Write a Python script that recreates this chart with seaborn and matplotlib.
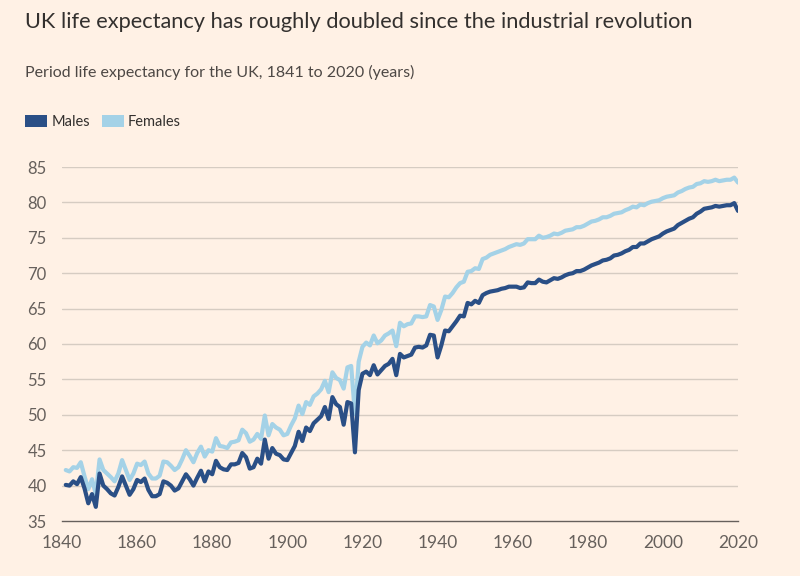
import numpy as np
import pandas as pd
import matplotlib
matplotlib.use("Agg")
import matplotlib.pyplot as plt
from matplotlib.patches import Patch
import seaborn as sns

years = list(range(1841, 2021))

males = [
    40.1, 40.0, 40.6, 40.2, 41.2, 39.6, 37.5, 38.8, 37.0, 41.7,   # 1841-1850
    40.0, 39.5, 38.9, 38.6, 39.8, 41.3, 40.0, 38.7, 39.5, 40.8,   # 1851-1860
    40.5, 41.0, 39.4, 38.5, 38.5, 38.8, 40.6, 40.4, 40.0, 39.3,   # 1861-1870
    39.6, 40.6, 41.6, 40.9, 40.0, 41.1, 42.1, 40.6, 42.0, 41.6,   # 1871-1880
    43.5, 42.6, 42.3, 42.2, 43.0, 43.0, 43.2, 44.6, 44.0, 42.4,   # 1881-1890
    42.6, 43.8, 43.1, 46.5, 43.8, 45.3, 44.5, 44.3, 43.7, 43.6,   # 1891-1900
    44.6, 45.6, 47.6, 46.3, 48.2, 47.7, 48.8, 49.3, 49.8, 51.1,   # 1901-1910
    49.4, 52.5, 51.5, 51.1, 48.6, 51.8, 51.6, 44.7, 53.5, 55.8,   # 1911-1920
    56.1, 55.6, 57.0, 55.7, 56.3, 56.9, 57.2, 57.9, 55.6, 58.6,   # 1921-1930
    58.1, 58.3, 58.5, 59.5, 59.6, 59.5, 59.8, 61.3, 61.2, 58.1,   # 1931-1940
    59.8, 61.9, 61.8, 62.5, 63.2, 64.0, 63.9, 65.8, 65.6, 66.1,   # 1941-1950
    65.8, 66.9, 67.2, 67.4, 67.5, 67.6, 67.8, 67.9, 68.1, 68.1,   # 1951-1960
    68.1, 67.9, 68.0, 68.7, 68.6, 68.6, 69.1, 68.8, 68.7, 69.0,   # 1961-1970
    69.3, 69.2, 69.4, 69.7, 69.9, 70.0, 70.3, 70.3, 70.5, 70.8,   # 1971-1980
    71.1, 71.3, 71.5, 71.8, 71.9, 72.1, 72.5, 72.6, 72.8, 73.1,   # 1981-1990
    73.3, 73.7, 73.7, 74.2, 74.2, 74.5, 74.8, 75.0, 75.2, 75.6,   # 1991-2000
    75.9, 76.1, 76.3, 76.8, 77.1, 77.4, 77.7, 77.9, 78.4, 78.7,   # 2001-2010
    79.1, 79.2, 79.3, 79.5, 79.4, 79.5, 79.6, 79.6, 79.9, 78.8,   # 2011-2020
]

females = [
    42.2, 42.0, 42.6, 42.5, 43.3, 41.3, 39.5, 40.9, 38.8, 43.7,   # 1841-1850
    42.2, 41.7, 41.2, 40.6, 41.7, 43.6, 42.2, 40.8, 41.7, 43.1,   # 1851-1860
    42.9, 43.4, 41.7, 41.0, 41.0, 41.4, 43.4, 43.3, 42.8, 42.2,   # 1861-1870
    42.6, 43.7, 45.0, 44.2, 43.3, 44.6, 45.5, 44.1, 45.0, 44.8,   # 1871-1880
    46.7, 45.6, 45.5, 45.3, 46.1, 46.2, 46.4, 47.9, 47.4, 46.2,   # 1881-1890
    46.5, 47.3, 46.6, 49.9, 47.1, 48.7, 48.2, 47.9, 47.1, 47.3,   # 1891-1900
    48.5, 49.5, 51.3, 50.1, 51.8, 51.4, 52.6, 53.0, 53.6, 54.8,   # 1901-1910
    53.2, 56.0, 55.2, 54.9, 53.7, 56.7, 56.9, 50.1, 57.5, 59.6,   # 1911-1920
    60.2, 59.8, 61.2, 60.1, 60.5, 61.2, 61.5, 61.9, 59.7, 63.0,   # 1921-1930
    62.5, 62.8, 62.9, 63.9, 63.9, 63.8, 63.9, 65.5, 65.3, 63.4,   # 1931-1940
    64.8, 66.7, 66.6, 67.2, 68.0, 68.6, 68.8, 70.2, 70.3, 70.7,   # 1941-1950
    70.6, 72.0, 72.2, 72.6, 72.8, 73.0, 73.2, 73.4, 73.7, 73.9,   # 1951-1960
    74.1, 74.0, 74.2, 74.8, 74.8, 74.8, 75.3, 75.0, 75.1, 75.3,   # 1961-1970
    75.6, 75.5, 75.7, 76.0, 76.1, 76.2, 76.5, 76.5, 76.7, 77.0,   # 1971-1980
    77.3, 77.4, 77.6, 77.9, 77.9, 78.1, 78.4, 78.5, 78.6, 78.9,   # 1981-1990
    79.1, 79.4, 79.3, 79.7, 79.6, 79.9, 80.1, 80.2, 80.3, 80.6,   # 1991-2000
    80.8, 80.9, 81.0, 81.4, 81.6, 81.9, 82.1, 82.2, 82.6, 82.7,   # 2001-2010
    83.0, 82.9, 83.0, 83.2, 83.0, 83.1, 83.2, 83.2, 83.5, 82.8,   # 2011-2020
]

series_names = ["Males", "Females"]
y_ticks = [35, 40, 45, 50, 55, 60, 65, 70, 75, 80, 85]
x_ticks = [1840, 1860, 1880, 1900, 1920, 1940, 1960, 1980, 2000, 2020]

title = "UK life expectancy has roughly doubled since the industrial revolution"
subtitle = "Period life expectancy for the UK, 1841 to 2020 (years)"

BG = "#FFF1E5"
C_M = "#2A4F86"
C_F = "#A4D2E7"
GRID = "#D6CCC2"
TXT = "#66605C"

df = pd.DataFrame({
    "year": years * 2,
    "value": males + females,
    "sex": [series_names[0]] * len(years) + [series_names[1]] * len(years),
})

sns.set_theme(style="white")
plt.rcParams["font.family"] = ["Lato", "DejaVu Sans"]

fig = plt.figure(figsize=(8, 5.76), dpi=100, facecolor=BG)
ax = fig.add_axes([62 / 800, 1 - 521 / 576, (738 - 62) / 800, (521 - 167) / 576])
ax.set_facecolor(BG)

sns.lineplot(data=df, x="year", y="value", hue="sex",
             palette={series_names[0]: C_M, series_names[1]: C_F},
             hue_order=[series_names[1], series_names[0]],
             linewidth=3, legend=False, ax=ax, zorder=3)

ax.set_xlim(1840, 2020)
ax.set_ylim(35, 85)
ax.set_yticks(y_ticks)
ax.set_xticks(x_ticks)
ax.set_xlabel("")
ax.set_ylabel("")
for y in y_ticks[1:]:
    ax.axhline(y, color=GRID, lw=1, zorder=1)
for s in ["top", "right", "left"]:
    ax.spines[s].set_visible(False)
ax.spines["bottom"].set_color(TXT)
ax.spines["bottom"].set_linewidth(1)
ax.tick_params(axis="y", length=0, pad=11, labelsize=12, labelcolor=TXT)
ax.tick_params(axis="x", length=6, width=1, color=TXT, pad=4, labelsize=12.5, labelcolor=TXT)
for lab in ax.get_yticklabels():
    lab.set_horizontalalignment("right")

fig.text(25 / 800, 1 - 22 / 576, title, fontsize=15.7, color="#33302E", va="center", ha="left")
fig.text(25 / 800, 1 - 72 / 576, subtitle, fontsize=11.5, color="#4D4845", va="center", ha="left")

handles = [Patch(facecolor=C_M, edgecolor="none"), Patch(facecolor=C_F, edgecolor="none")]
fig.legend(handles, series_names, loc="center left", bbox_to_anchor=(12 / 800, 1 - 122 / 576),
           ncol=2, frameon=False, fontsize=10.5, handlelength=1.5, handleheight=0.9,
           handletextpad=0.3, columnspacing=0.8, labelcolor="#33302E")

fig.savefig("out.png", dpi=100, facecolor=BG)
